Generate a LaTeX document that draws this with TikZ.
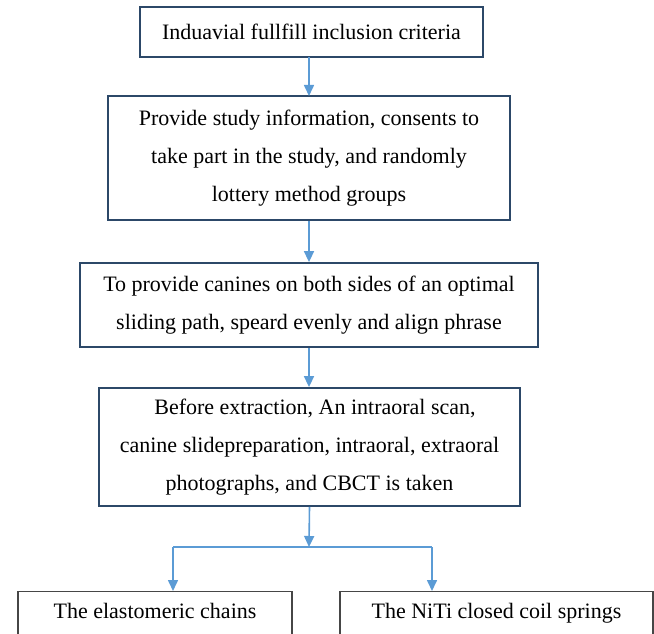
\documentclass[tikz,border=0pt]{standalone}
\usepackage{fontspec}
\setmainfont{Liberation Serif}
\usetikzlibrary{arrows.meta}
\definecolor{boxblue}{RGB}{44,72,104}
\definecolor{arrblue}{RGB}{91,155,213}
\definecolor{boxgrey}{RGB}{70,70,70}
\begin{document}
\begin{tikzpicture}[x=1pt,y=-1pt,
  flowbox/.style={draw=boxblue, line width=1.8pt, align=center, inner sep=0pt,
    font=\fontsize{22}{38}\selectfont},
  endbox/.style={draw=boxgrey, line width=1.3pt, inner sep=0pt, anchor=north,
    text height=27pt, text depth=45pt, font=\fontsize{22}{38}\selectfont},
  flowarrow/.style={draw=arrblue, line width=1.6pt, -{Triangle[length=11pt,width=10pt]}},
  flowline/.style={draw=arrblue, line width=1.6pt}]
\useasboundingbox (0,0) rectangle (654,634);
\clip (0,0) rectangle (654,634);
\node[flowbox, minimum width=343pt, minimum height=50pt] (b1) at (311.5,32)
  {Induavial fullfill inclusion criteria};
\node[flowbox, minimum width=402pt, minimum height=124pt] (b2) at (309,158)
  {Provide study information, consents to\\take part in the study, and randomly\\lottery method groups};
\node[flowbox, minimum width=458pt, minimum height=84pt] (b3) at (309,305)
  {To provide canines on both sides of an optimal\\sliding path, speard evenly and align phrase};
\node[flowbox, minimum width=421pt, minimum height=118pt] (b4) at (309.5,447)
  {\hspace*{11pt}Before extraction, An intraoral scan,\\canine slidepreparation, intraoral, extraoral\\photographs, and CBCT is taken};
\node[endbox, minimum width=274pt] (c1) at (155,591) {The elastomeric chains};
\node[endbox, minimum width=313pt] (c2) at (496.5,591) {The NiTi closed coil springs};
\coordinate (j) at (309,547);
\coordinate (jl) at (173,547);
\coordinate (jr) at (432,547);
\draw[flowarrow] (309,57) -- (309,96);
\draw[flowarrow] (b2.south) -- (b2.south |- b3.north);
\draw[flowarrow] (b3.south) -- (b3.south |- b4.north);
\draw[flowarrow] (b4.south) -- (j);
\draw[flowline] (jl) -- (jr);
\draw[flowarrow] (jl) -- (jl |- c1.north);
\draw[flowarrow] (jr) -- (jr |- c2.north);
\end{tikzpicture}
\end{document}
